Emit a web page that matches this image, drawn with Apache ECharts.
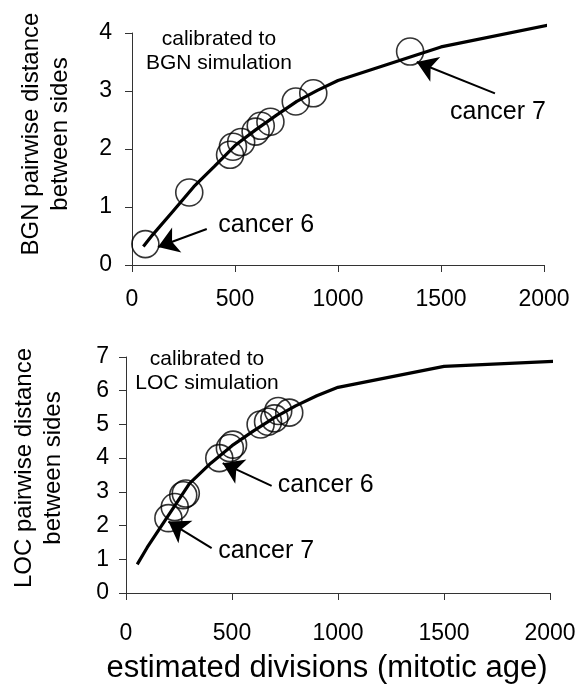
<!DOCTYPE html>
<html>
<head>
<meta charset="utf-8">
<script src="https://cdn.jsdelivr.net/npm/echarts@6/dist/echarts.min.js"></script>
<style>
html,body{margin:0;padding:0;background:#fff;}
#chart{width:580px;height:688px;}
</style>
</head>
<body>
<div id="chart"></div>
<script>
// ---- data ----
const bgnCurveX = [55, 100, 200, 300, 400, 500, 600, 700, 800, 900, 1000, 1500, 2040];
const bgnCurveY = [0.32, 0.52, 0.93, 1.35, 1.70, 2.06, 2.33, 2.58, 2.82, 3.01, 3.18, 3.76, 4.15];
const bgnPointsX = [65, 278, 476, 490, 530, 600, 625, 672, 795, 880, 1350, 1900];
const bgnPointsY = [0.36, 1.25, 1.90, 2.04, 2.12, 2.30, 2.40, 2.47, 2.82, 2.96, 3.68, 4.08];

const locCurveX = [53, 100, 200, 300, 400, 500, 600, 700, 800, 900, 1000, 1500, 2040];
const locCurveY = [0.85, 1.35, 2.30, 3.25, 3.85, 4.37, 4.80, 5.20, 5.55, 5.85, 6.10, 6.72, 6.88];
const locPointsX = [200, 230, 270, 282, 440, 490, 505, 635, 670, 700, 718, 770];
const locPointsY = [2.22, 2.55, 2.90, 2.95, 4.00, 4.30, 4.40, 5.00, 5.08, 5.18, 5.40, 5.35];

const xTicks = [0, 500, 1000, 1500, 2000];
const bgnYTicks = [0, 1, 2, 3, 4];
const locYTicks = [0, 1, 2, 3, 4, 5, 6, 7];

const bgnNote = 'calibrated to\nBGN simulation';
const locNote = 'calibrated to\nLOC simulation';
const bgnYName = 'BGN pairwise distance\nbetween sides';
const locYName = 'LOC pairwise distance\nbetween sides';
const xName = 'estimated divisions (mitotic age)';

// annotations in data coordinates: [tailX, tailY, headX, headY, labelX, labelY, text]
const bgnArrows = [
  [363, 0.62, 126, 0.31, 419, 0.69, 'cancer 6'],
  [1762, 2.96, 1382, 3.50, 1544, 2.63, 'cancer 7']
];
const locArrows = [
  [687, 3.18, 456, 3.85, 716, 3.20, 'cancer 6'],
  [404, 1.33, 200, 2.12, 435, 1.25, 'cancer 7']
];

// ---- chart ----
const FONT = '"Liberation Sans", Arial, Helvetica, sans-serif';
const axisColor = '#333';

function zip(a, b) { return a.map((v, i) => [v, b[i]]); }

function xAxisCfg(gridIndex, margin) {
  return {
    type: 'value', gridIndex, min: 0, max: 2000, interval: 500,
    axisLine: { show: true, onZero: false, lineStyle: { color: axisColor, width: 1 } },
    axisTick: { show: true, inside: false, length: 7, lineStyle: { color: axisColor } },
    splitLine: { show: false },
    axisLabel: { color: '#000', fontSize: 23, fontFamily: FONT, margin,
      formatter: v => (xTicks.indexOf(v) >= 0 ? String(v) : '') }
  };
}
function yAxisCfg(gridIndex, max, ticks, margin) {
  return {
    type: 'value', gridIndex, min: 0, max, interval: 1,
    axisLine: { show: true, lineStyle: { color: axisColor, width: 1 } },
    axisTick: { show: true, inside: false, length: 7, lineStyle: { color: axisColor } },
    splitLine: { show: false },
    axisLabel: { color: '#000', fontSize: 23, fontFamily: FONT, margin,
      formatter: v => (ticks.indexOf(v) >= 0 ? String(v) : '') }
  };
}

function arrowLines(arr) {
  return arr.map(a => [{ coord: [a[0], a[1]] }, { coord: [a[2], a[3]] }]);
}
function arrowLabels(arr, note, noteX, noteY) {
  const d = arr.map(a => ({
    coord: [a[4], a[5]], value: a[6],
    label: { show: true, position: 'right', distance: 0, formatter: a[6],
      color: '#000', fontSize: 25, fontFamily: FONT }
  }));
  d.push({
    coord: [noteX, noteY], value: note,
    label: { show: true, position: 'inside', formatter: note, align: 'center',
      verticalAlign: 'middle', lineHeight: 24, color: '#000', fontSize: 21, fontFamily: FONT }
  });
  return d;
}

function scatterSeries(xi, xs, ys, arrows, note, nx, ny) {
  return {
    type: 'scatter', xAxisIndex: xi, yAxisIndex: xi,
    data: zip(xs, ys), symbol: 'circle', symbolSize: 27,
    itemStyle: { color: 'rgba(0,0,0,0)', borderColor: '#000', borderWidth: 1.6 },
    emphasis: { disabled: true }, z: 3,
    markLine: {
      silent: true, symbol: ['none', 'arrow'], symbolSize: 20,
      lineStyle: { color: '#000', width: 2, type: 'solid' },
      itemStyle: { color: '#000' },
      label: { show: false }, data: arrowLines(arrows), animation: false
    },
    markPoint: {
      silent: true, symbol: 'circle', symbolSize: 0,
      itemStyle: { color: 'rgba(0,0,0,0)' },
      data: arrowLabels(arrows, note, nx, ny), animation: false
    }
  };
}
function curveSeries(xi, xs, ys) {
  return {
    type: 'line', xAxisIndex: xi, yAxisIndex: xi, data: zip(xs, ys),
    symbol: 'none', clip: false, smooth: false,
    lineStyle: { color: '#000', width: 3.2 }, z: 4
  };
}

const option = {
  animation: false,
  backgroundColor: '#fff',
  grid: [
    { left: 132, top: 33, width: 412, height: 232 },
    { left: 126, top: 357, width: 424, height: 236 }
  ],
  xAxis: [xAxisCfg(0, 23), xAxisCfg(1, 29)],
  yAxis: [yAxisCfg(0, 4, bgnYTicks, 20), yAxisCfg(1, 7, locYTicks, 17)],
  series: [
    scatterSeries(0, bgnPointsX, bgnPointsY, bgnArrows, bgnNote, 422, 3.68),
    curveSeries(0, bgnCurveX, bgnCurveY),
    scatterSeries(1, locPointsX, locPointsY, locArrows, locNote, 382, 6.57),
    curveSeries(1, locCurveX, locCurveY)
  ],
  graphic: [
    { type: 'text', x: 46, y: 134, rotation: Math.PI / 2,
      style: { text: bgnYName, fill: '#000', font: '24px ' + FONT, textAlign: 'center',
        textVerticalAlign: 'middle', lineHeight: 29 } },
    { type: 'text', x: 39, y: 468, rotation: Math.PI / 2,
      style: { text: locYName, fill: '#000', font: '24px ' + FONT, textAlign: 'center',
        textVerticalAlign: 'middle', lineHeight: 29 } },
    { type: 'text', x: 327, y: 668,
      style: { text: xName, fill: '#000', font: '31px ' + FONT, textAlign: 'center',
        textVerticalAlign: 'middle' } }
  ]
};

const chart = echarts.init(document.getElementById('chart'), null, { renderer: 'canvas' });
chart.setOption(option);
</script>
</body>
</html>
